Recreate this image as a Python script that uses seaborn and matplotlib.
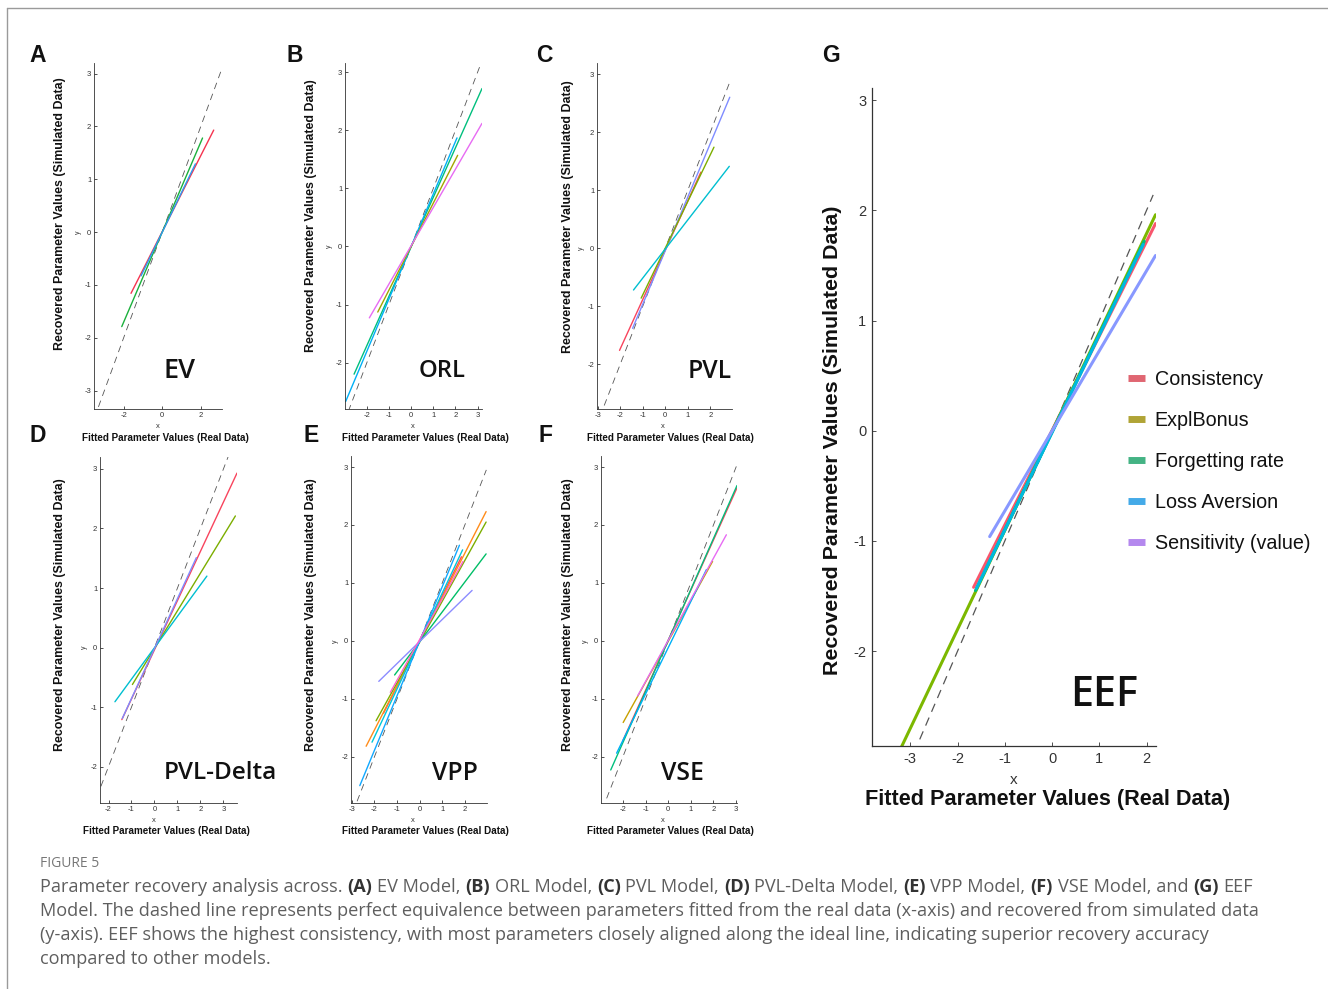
import matplotlib
matplotlib.use("Agg")
import matplotlib.pyplot as plt
import seaborn as sns
import pandas as pd
from matplotlib.lines import Line2D

# ---------------- data ----------------
# EV
ev_params = ["A", "c", "w"]
ev_x0 = [-1.62, -2.10, -1.10]
ev_y0 = [-1.16, -1.79, -0.83]
ev_x1 = [2.67, 2.09, 1.72]
ev_y1 = [1.93, 1.78, 1.29]
ev_colors = ["#F5334F", "#1BB03C", "#2D9BF0"]

# ORL
orl_params = ["K", "betaF", "Apun", "betaP"]
orl_x0 = [-2.58, -2.96, -1.51, -1.89]
orl_y0 = [-2.20, -2.67, -1.13, -1.23]
orl_x1 = [3.20, 2.07, 2.10, 3.20]
orl_y1 = [2.72, 1.87, 1.57, 2.12]
orl_colors = ["#00BF7D", "#00B0F6", "#A3A500", "#E76BF3"]

# PVL
pvl_params = ["A", "alpha", "cons", "lambda"]
pvl_x0 = [-2.03, -1.45, -1.07, -1.41]
pvl_y0 = [-1.76, -1.38, -0.86, -0.72]
pvl_x1 = [1.58, 2.86, 2.16, 2.84]
pvl_y1 = [1.31, 2.60, 1.74, 1.41]
pvl_colors = ["#F8445D", "#7F8CFF", "#7CAE00", "#00BFD0"]

# PVL-Delta
pvld_params = ["A", "alpha", "cons", "lambda"]
pvld_x0 = [-1.42, -0.96, -1.72, -1.40]
pvld_y0 = [-1.21, -0.62, -0.91, -1.19]
pvld_x1 = [3.59, 3.52, 2.28, 1.82]
pvld_y1 = [2.93, 2.21, 1.20, 1.51]
pvld_colors = ["#F8445D", "#7CAE00", "#00BFD0", "#7F8CFF"]

# VPP
vpp_params = ["A", "alpha", "cons", "lambda", "epP", "epN", "K", "w"]
vpp_x0 = [-1.60, -2.37, -1.93, -1.11, -2.11, -2.65, -1.81, -1.30]
vpp_y0 = [-1.25, -1.82, -1.38, -0.59, -1.75, -2.50, -0.70, -0.89]
vpp_x1 = [1.85, 2.94, 2.94, 2.94, 1.90, 1.76, 2.32, 1.92]
vpp_y1 = [1.45, 2.23, 2.05, 1.50, 1.57, 1.65, 0.87, 1.37]
vpp_colors = ["#F8445D", "#FF8C1A", "#7CAE00", "#00BE67",
              "#00C8D8", "#10A8FF", "#8C8CFF", "#FF61CC"]

# VSE
vse_params = ["theta", "delta", "alpha", "phi", "C"]
vse_x0 = [-2.00, -1.99, -2.54, -2.28, -1.35]
vse_y0 = [-1.72, -1.41, -2.23, -1.94, -0.95]
vse_x1 = [3.04, 1.96, 3.04, 1.69, 2.57]
vse_y1 = [2.64, 1.37, 2.68, 1.23, 1.83]
vse_colors = ["#F8445D", "#C8A000", "#00BF7D", "#00B0F6", "#E76BF3"]

# EEF
eef_params = ["Consistency", "ExplBonus", "Forgetting rate", "Loss Aversion", "Sensitivity (value)"]
eef_x0 = [-1.66, -3.30, -1.62, -1.60, -1.32]
eef_y0 = [-1.42, -2.97, -1.45, -1.43, -0.96]
eef_x1 = [2.19, 2.19, 1.95, 1.93, 2.19]
eef_y1 = [1.88, 1.96, 1.72, 1.69, 1.59]
eef_line_colors = ["#F8566D", "#7CB800", "#00BF7D", "#00B8E0", "#8898FF"]
eef_legend_colors = ["#E06672", "#B0A436", "#44B384", "#44AAE8", "#B488EE"]

model_names = ["EV", "ORL", "PVL", "PVL-Delta", "VPP", "VSE", "EEF"]
panel_letters = ["A", "B", "C", "D", "E", "F", "G"]

# identity (dashed) line extent per panel
diag_lo = [-3.31, -2.84, -2.71, -2.33, -2.77, -2.72, -2.80]
diag_hi = [3.07, 3.12, 2.86, 3.27, 2.95, 3.01, 2.14]

# tick positions
xticks_list = [[-2, 0, 2], [-2, -1, 0, 1, 2, 3], [-3, -2, -1, 0, 1, 2],
               [-2, -1, 0, 1, 2, 3], [-3, -2, -1, 0, 1, 2], [-2, -1, 0, 1, 2, 3],
               [-3, -2, -1, 0, 1, 2]]
yticks_list = [[-3, -2, -1, 0, 1, 2, 3]] + [[-2, -1, 0, 1, 2, 3]] * 6

# ---------------- layout ----------------
W, H = 1328, 989
sns.set_theme(style="white")
plt.rcParams["font.family"] = ["Liberation Sans", "DejaVu Sans"]
plt.rcParams["axes.unicode_minus"] = False

fig = plt.figure(figsize=(W / 100, H / 100), dpi=100)
R = fig.canvas.get_renderer()


def fx(px):
    return px / W


def fy(py):
    return 1 - py / H


def fit(t, target):
    bb = t.get_window_extent(R)
    L = max(bb.width, bb.height)
    t.set_fontsize(t.get_fontsize() * target / L)


# axes boxes in pixels: left, right, top, bottom
boxes = [(94, 222, 63, 409), (345, 482, 63, 409), (597, 732, 63, 409),
         (100, 237, 457, 803), (351, 487, 456, 803), (601, 737, 456, 803),
         (872, 1156, 88, 746)]
xlims = [(-3.54, 3.1), (-2.99, 3.2), (-3.03, 2.96), (-2.37, 3.59),
         (-3.04, 2.98), (-2.97, 3.04), (-3.81, 2.2)]
ylims = [(-3.35, 3.2), (-2.8, 3.16), (-2.77, 3.19), (-2.61, 3.2),
         (-2.8, 3.19), (-2.8, 3.19), (-2.86, 3.11)]

panel_data = [
    (ev_params, ev_x0, ev_y0, ev_x1, ev_y1, ev_colors),
    (orl_params, orl_x0, orl_y0, orl_x1, orl_y1, orl_colors),
    (pvl_params, pvl_x0, pvl_y0, pvl_x1, pvl_y1, pvl_colors),
    (pvld_params, pvld_x0, pvld_y0, pvld_x1, pvld_y1, pvld_colors),
    (vpp_params, vpp_x0, vpp_y0, vpp_x1, vpp_y1, vpp_colors),
    (vse_params, vse_x0, vse_y0, vse_x1, vse_y1, vse_colors),
    (eef_params, eef_x0, eef_y0, eef_x1, eef_y1, eef_line_colors),
]

axes = []
for i, (box, pdata) in enumerate(zip(boxes, panel_data)):
    l, r, t, b = box
    ax = fig.add_axes([fx(l), fy(b), (r - l) / W, (b - t) / H])
    axes.append(ax)
    params, x0, y0, x1, y1, cols = pdata
    rows = []
    for p, a, c, d, e in zip(params, x0, y0, x1, y1):
        rows.append({"param": p, "x": a, "y": c})
        rows.append({"param": p, "x": d, "y": e})
    df = pd.DataFrame(rows)
    big = (i == 6)
    # identity line
    ax.plot([diag_lo[i], diag_hi[i]], [diag_lo[i], diag_hi[i]],
            color="#555555", lw=0.9 if big else 0.6,
            linestyle=(0, (7, 5)) if big else (0, (8, 6)), zorder=1)
    sns.lineplot(data=df, x="x", y="y", hue="param", hue_order=params,
                 palette=dict(zip(params, cols)), estimator=None, sort=False,
                 legend=False, ax=ax, lw=2.2 if big else 1.0, zorder=2)
    ax.set_xlim(*xlims[i])
    ax.set_ylim(*ylims[i])
    ax.set_xticks(xticks_list[i])
    ax.set_yticks(yticks_list[i])
    ax.set_xlabel("")
    ax.set_ylabel("")
    sns.despine(ax=ax)
    for s in ("left", "bottom"):
        ax.spines[s].set_color("#333333")
        ax.spines[s].set_linewidth(0.9 if big else 0.6)
    ax.tick_params(direction="in", length=3 if big else 2, width=0.6,
                   colors="#333333", labelsize=10.5 if big else 5.5,
                   pad=4 if big else 2, left=True, bottom=True)
    ax.set_facecolor("none")
    # tiny MATLAB style axis name (hidden behind the big label in G)
    if not big:
        ax.annotate("y", xy=(0, 0), xycoords=("axes fraction", "data"),
                    xytext=(-16, 0), textcoords="offset pixels",
                    rotation=90, ha="center", va="center",
                    fontsize=5, color="#333333")

# small "x" labels and big axis labels
x_small_pos = [(158, 427), (413, 427), (663, 427), (154, 820), (413, 820), (663, 820), (1014, 780)]
for (px, py) in x_small_pos:
    big = px > 900
    fig.text(fx(px), fy(py), "x", ha="center", va="center",
             fontsize=11 if big else 5.5, color="#333333")

xlab_pos = [(165, 438), (425, 438), (670, 438), (166, 831), (425, 831), (670, 831)]
ylab_pos = [(60, 214), (311, 216), (568, 217), (60, 615), (311, 615), (568, 615)]
for (px, py) in xlab_pos:
    t = fig.text(fx(px), fy(py), "Fitted Parameter Values (Real Data)",
                 ha="center", va="center", fontsize=7, fontweight="bold",
                 color="#111111")
    fit(t, 167)
for (px, py) in ylab_pos:
    t = fig.text(fx(px), fy(py), "Recovered Parameter Values (Simulated Data)",
                 ha="center", va="center", rotation=90, fontsize=8,
                 fontweight="bold", color="#111111")
    fit(t, 272)

t = fig.text(fx(1048), fy(800), "Fitted Parameter Values (Real Data)",
             ha="center", va="center", fontsize=15, fontweight="bold", color="#111111")
fit(t, 367)
t = fig.text(fx(832), fy(440), "Recovered Parameter Values (Simulated Data)",
             ha="center", va="center", rotation=90, fontsize=15,
             fontweight="bold", color="#111111")
fit(t, 470)

# model names
name_pos = [(179, 371), (442, 371), (710, 371), (220, 773), (455, 773), (682, 773), (1104, 695)]
name_w = [32, 47, 44, 113, 46, 43, 68]
for nm, (px, py), w in zip(model_names, name_pos, name_w):
    t = fig.text(fx(px), fy(py), nm, ha="center", va="center",
                 fontsize=20, family=["Open Sans", "DejaVu Sans"],
                 fontweight="semibold", color="#111111")
    fit(t, w)

# panel letters
letter_pos = [(38, 55), (295, 55), (544, 55), (38, 436), (311, 436), (546, 436), (831, 55)]
for lt, (px, py) in zip(panel_letters, letter_pos):
    fig.text(fx(px), fy(py), lt, ha="center", va="center", fontsize=16.5,
             fontweight="bold", color="#111111")

# legend for EEF
handles = [Line2D([0], [0], color=c, lw=5, solid_capstyle="butt") for c in eef_legend_colors]
fig.legend(handles, eef_params, loc="upper left", bbox_to_anchor=(fx(1128), fy(370)),
           bbox_transform=fig.transFigure, frameon=False,
           handlelength=0.85, handletextpad=0.5, labelspacing=1.12,
           borderpad=0, borderaxespad=0, labelcolor="#111111",
           prop={"family": ["Liberation Sans", "DejaVu Sans"], "size": 14.2})

# frame lines
fig.add_artist(Line2D([fx(7), 1], [fy(8), fy(8)], transform=fig.transFigure,
                      color="#9a9a9a", lw=1))
fig.add_artist(Line2D([fx(7), fx(7)], [0, fy(8)], transform=fig.transFigure,
                      color="#9a9a9a", lw=1))

# ---------------- caption ----------------
cap_font = ["Open Sans", "DejaVu Sans"]
fig.text(fx(40), fy(867), "FIGURE 5", fontsize=10, family=cap_font,
         color="#777777", va="baseline", ha="left")

cap_lines = [
    [("Parameter recovery analysis across.", False), ("(A)", True), ("EV Model,", False),
     ("(B)", True), ("ORL Model,", False), ("(C)", True), ("PVL Model,", False),
     ("(D)", True), ("PVL-Delta Model,", False), ("(E)", True), ("VPP Model,", False),
     ("(F)", True), ("VSE Model, and", False), ("(G)", True), ("EEF", False)],
    [("Model. The dashed line represents perfect equivalence between parameters fitted from the real data (x-axis) and recovered from simulated data", False)],
    [("(y-axis). EEF shows the highest consistency, with most parameters closely aligned along the ideal line, indicating superior recovery accuracy", False)],
    [("compared to other models.", False)],
]
cap_base = [892, 916, 940, 964]


def line_width(pieces, size):
    tot = 0
    tmp = []
    for txt, bold in pieces:
        tt = fig.text(0, 0, txt, fontsize=size, family=cap_font,
                      fontweight="bold" if bold else "normal")
        tot += tt.get_window_extent(R).width
        tmp.append(tt)
    sp = fig.text(0, 0, "a a", fontsize=size, family=cap_font)
    sp2 = fig.text(0, 0, "aa", fontsize=size, family=cap_font)
    space = sp.get_window_extent(R).width - sp2.get_window_extent(R).width
    for tt in tmp + [sp, sp2]:
        tt.remove()
    return tot + space * (len(pieces) - 1), space


size0 = 12.0
w0, _ = line_width(cap_lines[1], size0)
cap_size = size0 * 1210 / w0

for pieces, base in zip(cap_lines, cap_base):
    _, space = line_width(pieces, cap_size)
    x = 40
    for txt, bold in pieces:
        tt = fig.text(fx(x), fy(base), txt, fontsize=cap_size, family=cap_font,
                      fontweight="bold" if bold else "normal",
                      color="#333333" if bold else "#5e5e5e",
                      va="baseline", ha="left")
        x += tt.get_window_extent(R).width + space

fig.savefig("out.png", dpi=100, facecolor="white")
